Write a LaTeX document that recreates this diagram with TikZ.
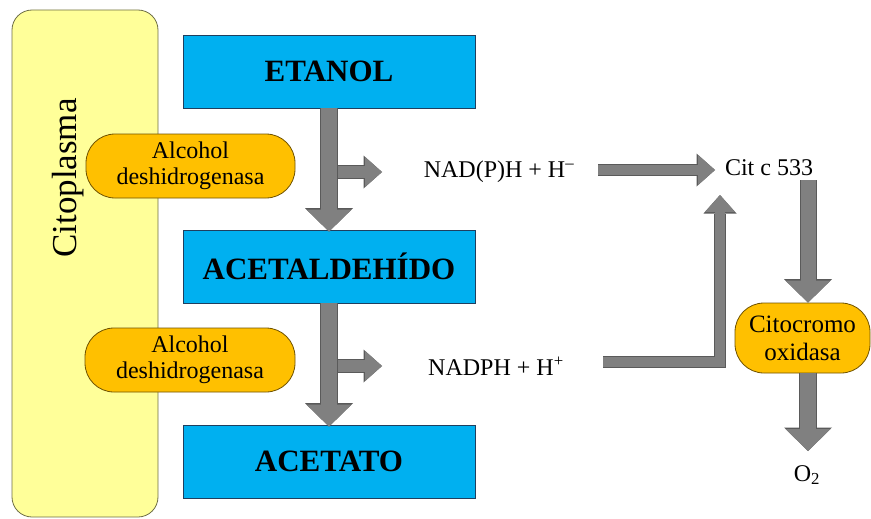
\documentclass[tikz,border=0pt]{standalone}
\usepackage{fontspec}
\setmainfont{Liberation Serif}
\usetikzlibrary{arrows.meta}
\definecolor{cytofill}{HTML}{FFFF99}
\definecolor{cytodraw}{HTML}{6E6E46}
\definecolor{boxfill}{HTML}{00B0F0}
\definecolor{boxdraw}{HTML}{1F3F5F}
\definecolor{pillfill}{HTML}{FFC000}
\definecolor{pilldraw}{HTML}{6F5200}
\definecolor{arrowgray}{HTML}{808080}
\definecolor{arrowdark}{HTML}{5A5A5A}
\tikzset{
  cyto/.style={draw=cytodraw, fill=cytofill, line width=0.8pt, rounded corners=20pt, inner sep=0pt},
  chem/.style={draw=boxdraw, fill=boxfill, line width=0.8pt, minimum width=292pt, minimum height=73pt, inner sep=0pt, font=\fontsize{31}{33}\selectfont\bfseries},
  pill/.style={draw=pilldraw, fill=pillfill, line width=0.8pt, rounded corners=29pt, inner sep=0pt, align=center, font=\fontsize{24}{26}\selectfont},
  lbl/.style={inner sep=0pt, font=\fontsize{24}{26}\selectfont},
  bigarrow/.style={draw=arrowgray, line width=#1, line join=miter,
     -{Triangle[width=45pt,length=22pt,line width=0pt]},
     preaction={draw=arrowdark, line width=#1+2pt, -{Triangle[width=48pt,length=23.5pt,line width=0pt]}}},
  smallarrow/.style={draw=arrowgray, line width=#1, line join=miter,
     -{Triangle[width=30pt,length=17pt,line width=0pt]},
     preaction={draw=arrowdark, line width=#1+2pt, -{Triangle[width=33pt,length=18.5pt,line width=0pt]}}}
}
\begin{document}
\begin{tikzpicture}[x=1pt,y=-1pt]
\useasboundingbox (0,0) rectangle (871,519);
% cytoplasm
\node[cyto, minimum width=146pt, minimum height=507pt] (cyto) at (85,263.5) {};
\node[lbl, rotate=90, font=\fontsize{35}{37}\selectfont] (citolbl) at (68,178) {Citoplasma};
% chemicals
\node[chem] (etanol) at (329,71.5) {ETANOL};
\node[chem] (acet) at (329,266.5) {ACETALDEHÍDO};
\node[chem] (acetato) at (329,461.5) {ACETATO};
% enzymes
\node[pill, minimum width=209pt, minimum height=64pt] (adh1) at (190.5,166) {Alcohol\\deshidrogenasa};
\node[pill, minimum width=210pt, minimum height=64pt] (adh2) at (190,360) {Alcohol\\deshidrogenasa};
\node[pill, minimum width=135pt, minimum height=70pt, font=\fontsize{25}{28}\selectfont] (cito) at (802.5,338) {Citocromo\\oxidasa};
% labels
\node[lbl] (nadp) at (499,172) {NAD(P)H + H\textsuperscript{–}};
\node[lbl] (nadph) at (496,366) {NADPH + H\textsuperscript{+}};
\node[lbl] (cit) at (769,168) {Cit c 533};
\node[lbl] (o2) at (807,475) {O\textsubscript{2}};
% helper coordinates
\coordinate (s1) at (338,172);
\coordinate (t1) at (382,172);
\coordinate (s2) at (338,366);
\coordinate (t2) at (382,366);
\coordinate (h1) at (598,170);
\coordinate (h2) at (715,170);
\coordinate (l1) at (603,362);
\coordinate (l2) at (720,195);
\coordinate (c1) at (808,180);
\coordinate (o2tip) at (808,451);
% arrows
\draw[bigarrow=16pt] (etanol.south) -- ([yshift=-2pt]acet.north);
\draw[bigarrow=16pt] (acet.south) -- ([yshift=-2pt]acetato.north);
\draw[smallarrow=12pt] (s1) -- (t1);
\draw[smallarrow=12pt] (s2) -- (t2);
\draw[smallarrow=10pt] (h1) -- (h2);
\draw[smallarrow=10pt] (l1) -| (l2);
\draw[bigarrow=15pt] (c1) -- (c1 |- cito.north);
\draw[bigarrow=16pt] (c1 |- cito.south) -- (o2tip);
\end{tikzpicture}
\end{document}
